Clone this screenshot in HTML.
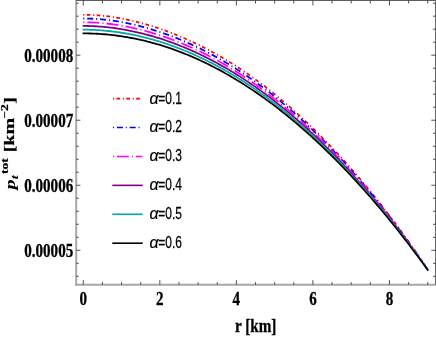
<!DOCTYPE html>
<html><head><meta charset="utf-8"><title>plot</title>
<style>html,body{margin:0;padding:0;background:#fff;}body{width:436px;height:338px;position:relative;overflow:hidden;font-family:"Liberation Sans",sans-serif;}</style>
</head><body>
<svg width="436" height="338" viewBox="0 0 436 338" style="position:absolute;left:0;top:0;will-change:transform">
<rect x="0" y="0" width="436" height="338" fill="#fff"/>
<g transform="scale(0.78 1)" fill="none" stroke-width="1.8">
<path d="M106.79,14.80 L109.74,14.81 L112.68,14.86 L115.63,14.92 L118.57,15.02 L121.51,15.14 L124.46,15.29 L127.40,15.47 L130.35,15.67 L133.29,15.90 L136.23,16.16 L139.18,16.44 L142.12,16.75 L145.06,17.08 L148.01,17.44 L150.95,17.82 L153.90,18.23 L156.84,18.66 L159.78,19.11 L162.73,19.58 L165.67,20.08 L168.62,20.60 L171.56,21.14 L174.50,21.71 L177.45,22.29 L180.39,22.90 L183.33,23.53 L186.28,24.17 L189.22,24.84 L192.17,25.53 L195.11,26.24 L198.05,26.97 L201.00,27.72 L203.94,28.49 L206.89,29.27 L209.83,30.08 L212.77,30.91 L215.72,31.76 L218.66,32.63 L221.60,33.52 L224.55,34.42 L227.49,35.35 L230.44,36.30 L233.38,37.27 L236.32,38.26 L239.27,39.27 L242.21,40.30 L245.16,41.35 L248.10,42.42 L251.04,43.51 L253.99,44.62 L256.93,45.76 L259.87,46.91 L262.82,48.09 L265.76,49.29 L268.71,50.51 L271.65,51.75 L274.59,53.01 L277.54,54.30 L280.48,55.60 L283.43,56.93 L286.37,58.28 L289.31,59.65 L292.26,61.04 L295.20,62.46 L298.14,63.89 L301.09,65.35 L304.03,66.83 L306.98,68.34 L309.92,69.86 L312.86,71.41 L315.81,72.98 L318.75,74.57 L321.70,76.19 L324.64,77.83 L327.58,79.48 L330.53,81.17 L333.47,82.87 L336.41,84.60 L339.36,86.34 L342.30,88.12 L345.25,89.91 L348.19,91.73 L351.13,93.56 L354.08,95.42 L357.02,97.31 L359.97,99.21 L362.91,101.14 L365.85,103.09 L368.80,105.07 L371.74,107.06 L374.68,109.08 L377.63,111.12 L380.57,113.18 L383.52,115.27 L386.46,117.38 L389.40,119.51 L392.35,121.66 L395.29,123.84 L398.24,126.04 L401.18,128.26 L404.12,130.51 L407.07,132.78 L410.01,135.07 L412.95,137.38 L415.90,139.72 L418.84,142.07 L421.79,144.46 L424.73,146.86 L427.67,149.29 L430.62,151.74 L433.56,154.22 L436.51,156.71 L439.45,159.23 L442.39,161.78 L445.34,164.34 L448.28,166.93 L451.22,169.55 L454.17,172.18 L457.11,174.84 L460.06,177.53 L463.00,180.24 L465.94,182.97 L468.89,185.72 L471.83,188.50 L474.78,191.30 L477.72,194.13 L480.66,196.98 L483.61,199.85 L486.55,202.75 L489.49,205.67 L492.44,208.61 L495.38,211.58 L498.33,214.58 L501.27,217.60 L504.21,220.64 L507.16,223.71 L510.10,226.80 L513.05,229.92 L515.99,233.06 L518.93,236.23 L521.88,239.42 L524.82,242.64 L527.76,245.88 L530.71,249.15 L533.65,252.45 L536.60,255.77 L539.54,259.11 L542.48,262.48 L545.43,265.88 L548.37,269.30" stroke="#ff0000" stroke-dasharray="1.41 3.08 4.62 3.55"/>
<path d="M106.79,18.52 L109.74,18.53 L112.68,18.57 L115.63,18.64 L118.57,18.73 L121.51,18.85 L124.46,18.99 L127.40,19.16 L130.35,19.35 L133.29,19.57 L136.23,19.82 L139.18,20.09 L142.12,20.38 L145.06,20.70 L148.01,21.04 L150.95,21.41 L153.90,21.79 L156.84,22.21 L159.78,22.64 L162.73,23.10 L165.67,23.58 L168.62,24.08 L171.56,24.60 L174.50,25.15 L177.45,25.71 L180.39,26.30 L183.33,26.91 L186.28,27.54 L189.22,28.19 L192.17,28.86 L195.11,29.55 L198.05,30.26 L201.00,30.99 L203.94,31.74 L206.89,32.51 L209.83,33.30 L212.77,34.11 L215.72,34.94 L218.66,35.79 L221.60,36.66 L224.55,37.55 L227.49,38.46 L230.44,39.39 L233.38,40.35 L236.32,41.32 L239.27,42.31 L242.21,43.33 L245.16,44.36 L248.10,45.42 L251.04,46.49 L253.99,47.59 L256.93,48.71 L259.87,49.85 L262.82,51.01 L265.76,52.19 L268.71,53.39 L271.65,54.61 L274.59,55.86 L277.54,57.13 L280.48,58.42 L283.43,59.73 L286.37,61.06 L289.31,62.41 L292.26,63.79 L295.20,65.19 L298.14,66.60 L301.09,68.05 L304.03,69.51 L306.98,70.99 L309.92,72.50 L312.86,74.03 L315.81,75.58 L318.75,77.15 L321.70,78.75 L324.64,80.37 L327.58,82.00 L330.53,83.67 L333.47,85.35 L336.41,87.05 L339.36,88.78 L342.30,90.53 L345.25,92.30 L348.19,94.10 L351.13,95.91 L354.08,97.75 L357.02,99.61 L359.97,101.50 L362.91,103.40 L365.85,105.33 L368.80,107.28 L371.74,109.25 L374.68,111.24 L377.63,113.26 L380.57,115.30 L383.52,117.36 L386.46,119.44 L389.40,121.55 L392.35,123.68 L395.29,125.83 L398.24,128.00 L401.18,130.20 L404.12,132.42 L407.07,134.66 L410.01,136.92 L412.95,139.21 L415.90,141.52 L418.84,143.85 L421.79,146.20 L424.73,148.58 L427.67,150.98 L430.62,153.40 L433.56,155.84 L436.51,158.31 L439.45,160.80 L442.39,163.31 L445.34,165.85 L448.28,168.41 L451.22,170.99 L454.17,173.60 L457.11,176.22 L460.06,178.88 L463.00,181.55 L465.94,184.25 L468.89,186.97 L471.83,189.71 L474.78,192.48 L477.72,195.27 L480.66,198.08 L483.61,200.92 L486.55,203.78 L489.49,206.67 L492.44,209.58 L495.38,212.51 L498.33,215.47 L501.27,218.45 L504.21,221.45 L507.16,224.48 L510.10,227.53 L513.05,230.61 L515.99,233.71 L518.93,236.84 L521.88,239.99 L524.82,243.16 L527.76,246.36 L530.71,249.58 L533.65,252.83 L536.60,256.11 L539.54,259.41 L542.48,262.73 L545.43,266.08 L548.37,269.45" stroke="#0000ff" stroke-dasharray="1.41 3.59 7.69 3.76"/>
<path d="M106.79,22.24 L109.74,22.25 L112.68,22.29 L115.63,22.35 L118.57,22.44 L121.51,22.55 L124.46,22.69 L127.40,22.85 L130.35,23.03 L133.29,23.24 L136.23,23.47 L139.18,23.73 L142.12,24.01 L145.06,24.31 L148.01,24.64 L150.95,24.99 L153.90,25.36 L156.84,25.76 L159.78,26.17 L162.73,26.61 L165.67,27.07 L168.62,27.56 L171.56,28.06 L174.50,28.59 L177.45,29.13 L180.39,29.70 L183.33,30.29 L186.28,30.90 L189.22,31.53 L192.17,32.18 L195.11,32.85 L198.05,33.54 L201.00,34.25 L203.94,34.99 L206.89,35.74 L209.83,36.51 L212.77,37.30 L215.72,38.12 L218.66,38.95 L221.60,39.80 L224.55,40.68 L227.49,41.57 L230.44,42.49 L233.38,43.42 L236.32,44.38 L239.27,45.36 L242.21,46.35 L245.16,47.37 L248.10,48.41 L251.04,49.47 L253.99,50.55 L256.93,51.65 L259.87,52.78 L262.82,53.92 L265.76,55.09 L268.71,56.27 L271.65,57.48 L274.59,58.71 L277.54,59.96 L280.48,61.23 L283.43,62.52 L286.37,63.84 L289.31,65.18 L292.26,66.53 L295.20,67.91 L298.14,69.32 L301.09,70.74 L304.03,72.18 L306.98,73.65 L309.92,75.14 L312.86,76.65 L315.81,78.18 L318.75,79.73 L321.70,81.31 L324.64,82.90 L327.58,84.52 L330.53,86.16 L333.47,87.83 L336.41,89.51 L339.36,91.22 L342.30,92.95 L345.25,94.70 L348.19,96.47 L351.13,98.26 L354.08,100.08 L357.02,101.92 L359.97,103.78 L362.91,105.66 L365.85,107.56 L368.80,109.49 L371.74,111.44 L374.68,113.41 L377.63,115.40 L380.57,117.42 L383.52,119.45 L386.46,121.51 L389.40,123.59 L392.35,125.69 L395.29,127.82 L398.24,129.97 L401.18,132.14 L404.12,134.33 L407.07,136.54 L410.01,138.78 L412.95,141.04 L415.90,143.32 L418.84,145.62 L421.79,147.95 L424.73,150.29 L427.67,152.66 L430.62,155.06 L433.56,157.47 L436.51,159.91 L439.45,162.37 L442.39,164.85 L445.34,167.36 L448.28,169.88 L451.22,172.44 L454.17,175.01 L457.11,177.60 L460.06,180.22 L463.00,182.86 L465.94,185.53 L468.89,188.22 L471.83,190.93 L474.78,193.66 L477.72,196.41 L480.66,199.19 L483.61,202.00 L486.55,204.82 L489.49,207.67 L492.44,210.54 L495.38,213.44 L498.33,216.35 L501.27,219.30 L504.21,222.26 L507.16,225.25 L510.10,228.26 L513.05,231.30 L515.99,234.36 L518.93,237.44 L521.88,240.55 L524.82,243.68 L527.76,246.84 L530.71,250.02 L533.65,253.22 L536.60,256.45 L539.54,259.70 L542.48,262.98 L545.43,266.28 L548.37,269.60" stroke="#ff00ff" stroke-dasharray="1.41 3.85 15.13 4.17"/>
<path d="M106.79,25.96 L109.74,25.97 L112.68,26.01 L115.63,26.07 L118.57,26.15 L121.51,26.25 L124.46,26.38 L127.40,26.53 L130.35,26.71 L133.29,26.91 L136.23,27.13 L139.18,27.37 L142.12,27.64 L145.06,27.93 L148.01,28.24 L150.95,28.57 L153.90,28.93 L156.84,29.31 L159.78,29.71 L162.73,30.13 L165.67,30.57 L168.62,31.03 L171.56,31.52 L174.50,32.03 L177.45,32.55 L180.39,33.10 L183.33,33.67 L186.28,34.26 L189.22,34.87 L192.17,35.50 L195.11,36.16 L198.05,36.83 L201.00,37.52 L203.94,38.24 L206.89,38.97 L209.83,39.72 L212.77,40.50 L215.72,41.30 L218.66,42.11 L221.60,42.95 L224.55,43.81 L227.49,44.68 L230.44,45.58 L233.38,46.50 L236.32,47.44 L239.27,48.40 L242.21,49.38 L245.16,50.38 L248.10,51.41 L251.04,52.45 L253.99,53.51 L256.93,54.60 L259.87,55.71 L262.82,56.84 L265.76,57.98 L268.71,59.15 L271.65,60.35 L274.59,61.56 L277.54,62.79 L280.48,64.05 L283.43,65.32 L286.37,66.62 L289.31,67.94 L292.26,69.28 L295.20,70.64 L298.14,72.03 L301.09,73.43 L304.03,74.86 L306.98,76.30 L309.92,77.77 L312.86,79.27 L315.81,80.78 L318.75,82.31 L321.70,83.87 L324.64,85.44 L327.58,87.04 L330.53,88.66 L333.47,90.31 L336.41,91.97 L339.36,93.65 L342.30,95.36 L345.25,97.09 L348.19,98.84 L351.13,100.61 L354.08,102.41 L357.02,104.22 L359.97,106.06 L362.91,107.92 L365.85,109.80 L368.80,111.70 L371.74,113.63 L374.68,115.57 L377.63,117.54 L380.57,119.53 L383.52,121.54 L386.46,123.58 L389.40,125.63 L392.35,127.71 L395.29,129.81 L398.24,131.93 L401.18,134.07 L404.12,136.24 L407.07,138.42 L410.01,140.63 L412.95,142.86 L415.90,145.12 L418.84,147.39 L421.79,149.69 L424.73,152.01 L427.67,154.35 L430.62,156.71 L433.56,159.10 L436.51,161.51 L439.45,163.94 L442.39,166.39 L445.34,168.86 L448.28,171.36 L451.22,173.88 L454.17,176.42 L457.11,178.98 L460.06,181.57 L463.00,184.18 L465.94,186.81 L468.89,189.46 L471.83,192.14 L474.78,194.84 L477.72,197.56 L480.66,200.30 L483.61,203.07 L486.55,205.86 L489.49,208.67 L492.44,211.50 L495.38,214.36 L498.33,217.24 L501.27,220.15 L504.21,223.07 L507.16,226.02 L510.10,228.99 L513.05,231.99 L515.99,235.01 L518.93,238.05 L521.88,241.11 L524.82,244.20 L527.76,247.31 L530.71,250.45 L533.65,253.61 L536.60,256.79 L539.54,259.99 L542.48,263.22 L545.43,266.47 L548.37,269.75" stroke="#800080" stroke-linecap="square"/>
<path d="M106.79,29.68 L109.74,29.69 L112.68,29.72 L115.63,29.78 L118.57,29.86 L121.51,29.96 L124.46,30.08 L127.40,30.22 L130.35,30.39 L133.29,30.58 L136.23,30.78 L139.18,31.02 L142.12,31.27 L145.06,31.54 L148.01,31.84 L150.95,32.16 L153.90,32.50 L156.84,32.86 L159.78,33.24 L162.73,33.64 L165.67,34.07 L168.62,34.51 L171.56,34.98 L174.50,35.47 L177.45,35.97 L180.39,36.50 L183.33,37.05 L186.28,37.62 L189.22,38.22 L192.17,38.83 L195.11,39.46 L198.05,40.12 L201.00,40.79 L203.94,41.49 L206.89,42.20 L209.83,42.94 L212.77,43.70 L215.72,44.47 L218.66,45.27 L221.60,46.09 L224.55,46.93 L227.49,47.79 L230.44,48.67 L233.38,49.58 L236.32,50.50 L239.27,51.44 L242.21,52.41 L245.16,53.40 L248.10,54.40 L251.04,55.43 L253.99,56.48 L256.93,57.55 L259.87,58.64 L262.82,59.75 L265.76,60.88 L268.71,62.04 L271.65,63.21 L274.59,64.41 L277.54,65.62 L280.48,66.86 L283.43,68.12 L286.37,69.40 L289.31,70.70 L292.26,72.03 L295.20,73.37 L298.14,74.74 L301.09,76.12 L304.03,77.53 L306.98,78.96 L309.92,80.41 L312.86,81.88 L315.81,83.38 L318.75,84.89 L321.70,86.43 L324.64,87.98 L327.58,89.56 L330.53,91.16 L333.47,92.78 L336.41,94.43 L339.36,96.09 L342.30,97.78 L345.25,99.48 L348.19,101.21 L351.13,102.96 L354.08,104.73 L357.02,106.53 L359.97,108.34 L362.91,110.18 L365.85,112.04 L368.80,113.91 L371.74,115.82 L374.68,117.74 L377.63,119.68 L380.57,121.65 L383.52,123.63 L386.46,125.64 L389.40,127.67 L392.35,129.72 L395.29,131.80 L398.24,133.89 L401.18,136.01 L404.12,138.15 L407.07,140.31 L410.01,142.49 L412.95,144.69 L415.90,146.92 L418.84,149.16 L421.79,151.43 L424.73,153.72 L427.67,156.04 L430.62,158.37 L433.56,160.73 L436.51,163.11 L439.45,165.50 L442.39,167.93 L445.34,170.37 L448.28,172.84 L451.22,175.32 L454.17,177.83 L457.11,180.36 L460.06,182.92 L463.00,185.49 L465.94,188.09 L468.89,190.71 L471.83,193.35 L474.78,196.02 L477.72,198.70 L480.66,201.41 L483.61,204.14 L486.55,206.90 L489.49,209.67 L492.44,212.47 L495.38,215.29 L498.33,218.13 L501.27,220.99 L504.21,223.88 L507.16,226.79 L510.10,229.72 L513.05,232.68 L515.99,235.65 L518.93,238.65 L521.88,241.68 L524.82,244.72 L527.76,247.79 L530.71,250.88 L533.65,253.99 L536.60,257.13 L539.54,260.29 L542.48,263.47 L545.43,266.67 L548.37,269.90" stroke="#00aaaa" stroke-linecap="square"/>
<path d="M106.79,33.40 L109.74,33.41 L112.68,33.44 L115.63,33.49 L118.57,33.57 L121.51,33.66 L124.46,33.77 L127.40,33.91 L130.35,34.07 L133.29,34.24 L136.23,34.44 L139.18,34.66 L142.12,34.90 L145.06,35.16 L148.01,35.44 L150.95,35.74 L153.90,36.06 L156.84,36.41 L159.78,36.77 L162.73,37.16 L165.67,37.56 L168.62,37.99 L171.56,38.44 L174.50,38.91 L177.45,39.39 L180.39,39.90 L183.33,40.44 L186.28,40.99 L189.22,41.56 L192.17,42.15 L195.11,42.77 L198.05,43.40 L201.00,44.06 L203.94,44.74 L206.89,45.43 L209.83,46.15 L212.77,46.89 L215.72,47.65 L218.66,48.43 L221.60,49.24 L224.55,50.06 L227.49,50.90 L230.44,51.77 L233.38,52.65 L236.32,53.56 L239.27,54.49 L242.21,55.44 L245.16,56.41 L248.10,57.40 L251.04,58.41 L253.99,59.44 L256.93,60.49 L259.87,61.57 L262.82,62.66 L265.76,63.78 L268.71,64.92 L271.65,66.08 L274.59,67.26 L277.54,68.46 L280.48,69.68 L283.43,70.92 L286.37,72.18 L289.31,73.47 L292.26,74.77 L295.20,76.10 L298.14,77.45 L301.09,78.82 L304.03,80.21 L306.98,81.62 L309.92,83.05 L312.86,84.50 L315.81,85.98 L318.75,87.47 L321.70,88.99 L324.64,90.52 L327.58,92.08 L330.53,93.66 L333.47,95.26 L336.41,96.89 L339.36,98.53 L342.30,100.19 L345.25,101.88 L348.19,103.59 L351.13,105.31 L354.08,107.06 L357.02,108.83 L359.97,110.62 L362.91,112.44 L365.85,114.27 L368.80,116.13 L371.74,118.00 L374.68,119.90 L377.63,121.82 L380.57,123.76 L383.52,125.72 L386.46,127.71 L389.40,129.71 L392.35,131.74 L395.29,133.79 L398.24,135.86 L401.18,137.95 L404.12,140.06 L407.07,142.19 L410.01,144.34 L412.95,146.52 L415.90,148.72 L418.84,150.94 L421.79,153.18 L424.73,155.44 L427.67,157.72 L430.62,160.03 L433.56,162.35 L436.51,164.70 L439.45,167.07 L442.39,169.46 L445.34,171.88 L448.28,174.31 L451.22,176.77 L454.17,179.25 L457.11,181.74 L460.06,184.27 L463.00,186.81 L465.94,189.37 L468.89,191.96 L471.83,194.57 L474.78,197.20 L477.72,199.85 L480.66,202.52 L483.61,205.22 L486.55,207.93 L489.49,210.67 L492.44,213.43 L495.38,216.21 L498.33,219.02 L501.27,221.84 L504.21,224.69 L507.16,227.56 L510.10,230.45 L513.05,233.37 L515.99,236.30 L518.93,239.26 L521.88,242.24 L524.82,245.24 L527.76,248.26 L530.71,251.31 L533.65,254.38 L536.60,257.47 L539.54,260.58 L542.48,263.71 L545.43,266.87 L548.37,270.05" stroke="#000000" stroke-linecap="square"/>
</g>
<line x1="76.2" y1="0" x2="76.2" y2="285.75" stroke="#a8a8a8" stroke-width="2"/>
<line x1="75.2" y1="284.75" x2="436" y2="284.75" stroke="#a8a8a8" stroke-width="2"/>
<line x1="76.2" y1="0.4" x2="436" y2="0.4" stroke="#4a4a4a" stroke-width="1"/>
<line x1="435.5" y1="0" x2="435.5" y2="284.75" stroke="#666" stroke-width="1"/>
<path d="M83.30,284.75 V280.15 M83.30,0.6 V5.5 M102.44,284.75 V282.15 M102.44,0.6 V3.5 M121.57,284.75 V282.15 M121.57,0.6 V3.5 M140.70,284.75 V282.15 M140.70,0.6 V3.5 M159.84,284.75 V280.15 M159.84,0.6 V5.5 M178.98,284.75 V282.15 M178.98,0.6 V3.5 M198.11,284.75 V282.15 M198.11,0.6 V3.5 M217.25,284.75 V282.15 M217.25,0.6 V3.5 M236.38,284.75 V280.15 M236.38,0.6 V5.5 M255.51,284.75 V282.15 M255.51,0.6 V3.5 M274.65,284.75 V282.15 M274.65,0.6 V3.5 M293.79,284.75 V282.15 M293.79,0.6 V3.5 M312.92,284.75 V280.15 M312.92,0.6 V5.5 M332.06,284.75 V282.15 M332.06,0.6 V3.5 M351.19,284.75 V282.15 M351.19,0.6 V3.5 M370.33,284.75 V282.15 M370.33,0.6 V3.5 M389.46,284.75 V280.15 M389.46,0.6 V5.5 M408.60,284.75 V282.15 M408.60,0.6 V3.5 M427.73,284.75 V282.15 M427.73,0.6 V3.5 M76.2,276.30 H78.7 M435.5,276.30 H433.0 M76.2,263.30 H78.7 M435.5,263.30 H433.0 M76.2,250.29 H80.4 M435.5,250.29 H431.3 M76.2,237.28 H78.7 M435.5,237.28 H433.0 M76.2,224.28 H78.7 M435.5,224.28 H433.0 M76.2,211.27 H78.7 M435.5,211.27 H433.0 M76.2,198.27 H78.7 M435.5,198.27 H433.0 M76.2,185.26 H80.4 M435.5,185.26 H431.3 M76.2,172.25 H78.7 M435.5,172.25 H433.0 M76.2,159.25 H78.7 M435.5,159.25 H433.0 M76.2,146.24 H78.7 M435.5,146.24 H433.0 M76.2,133.24 H78.7 M435.5,133.24 H433.0 M76.2,120.23 H80.4 M435.5,120.23 H431.3 M76.2,107.22 H78.7 M435.5,107.22 H433.0 M76.2,94.22 H78.7 M435.5,94.22 H433.0 M76.2,81.21 H78.7 M435.5,81.21 H433.0 M76.2,68.21 H78.7 M435.5,68.21 H433.0 M76.2,55.20 H80.4 M435.5,55.20 H431.3 M76.2,42.19 H78.7 M435.5,42.19 H433.0 M76.2,29.19 H78.7 M435.5,29.19 H433.0 M76.2,16.18 H78.7 M435.5,16.18 H433.0 M76.2,3.18 H78.7 M435.5,3.18 H433.0" fill="none" stroke="#3c3c3c" stroke-width="0.9"/>
<text transform="translate(73.2,61.50) scale(0.815,1)" text-anchor="end" font-family="Liberation Serif, serif" font-weight="bold" font-size="18.5" fill="#000" stroke="#000" stroke-width="0.3">0.00008</text>
<text transform="translate(73.2,126.53) scale(0.815,1)" text-anchor="end" font-family="Liberation Serif, serif" font-weight="bold" font-size="18.5" fill="#000" stroke="#000" stroke-width="0.3">0.00007</text>
<text transform="translate(73.2,191.56) scale(0.815,1)" text-anchor="end" font-family="Liberation Serif, serif" font-weight="bold" font-size="18.5" fill="#000" stroke="#000" stroke-width="0.3">0.00006</text>
<text transform="translate(73.2,256.59) scale(0.815,1)" text-anchor="end" font-family="Liberation Serif, serif" font-weight="bold" font-size="18.5" fill="#000" stroke="#000" stroke-width="0.3">0.00005</text>
<text transform="translate(83.30,305) scale(0.815,1)" text-anchor="middle" font-family="Liberation Serif, serif" font-weight="bold" font-size="18.5" fill="#000" stroke="#000" stroke-width="0.3">0</text>
<text transform="translate(159.84,305) scale(0.815,1)" text-anchor="middle" font-family="Liberation Serif, serif" font-weight="bold" font-size="18.5" fill="#000" stroke="#000" stroke-width="0.3">2</text>
<text transform="translate(236.38,305) scale(0.815,1)" text-anchor="middle" font-family="Liberation Serif, serif" font-weight="bold" font-size="18.5" fill="#000" stroke="#000" stroke-width="0.3">4</text>
<text transform="translate(312.92,305) scale(0.815,1)" text-anchor="middle" font-family="Liberation Serif, serif" font-weight="bold" font-size="18.5" fill="#000" stroke="#000" stroke-width="0.3">6</text>
<text transform="translate(389.46,305) scale(0.815,1)" text-anchor="middle" font-family="Liberation Serif, serif" font-weight="bold" font-size="18.5" fill="#000" stroke="#000" stroke-width="0.3">8</text>
<text transform="translate(255.7,332.3) scale(0.83,1)" text-anchor="middle" font-family="Liberation Serif, serif" font-weight="bold" font-size="18.3" fill="#000" stroke="#000" stroke-width="0.3">r [km]</text>
<text transform="translate(14.6,189.4) scale(0.74,1) rotate(-90)" font-family="Liberation Serif, serif" font-weight="bold" font-size="20" font-style="italic" fill="#000" stroke="#000" stroke-width="0.1">p</text>
<text transform="translate(17.5,179.2) scale(0.74,1) rotate(-90)" font-family="Liberation Serif, serif" font-weight="bold" font-size="14" font-style="italic" fill="#000" stroke="#000" stroke-width="0.1">t</text>
<text transform="translate(7.6,174.0) scale(0.74,1) rotate(-90)" font-family="Liberation Serif, serif" font-weight="bold" font-size="13.5" fill="#000" stroke="#000" stroke-width="0.3">tot</text>
<text transform="translate(14.4,152.3) scale(0.74,1) rotate(-90)" font-family="Liberation Serif, serif" font-weight="bold" font-size="20" fill="#000" stroke="#000" stroke-width="0.3">[km</text>
<text transform="translate(8.0,118.6) scale(0.74,1) rotate(-90)" font-family="Liberation Serif, serif" font-weight="bold" font-size="13.5" fill="#000" stroke="#000" stroke-width="0.3">−2</text>
<text transform="translate(14.4,103.8) scale(0.74,1) rotate(-90)" font-family="Liberation Serif, serif" font-weight="bold" font-size="20" fill="#000" stroke="#000" stroke-width="0.3">]</text>
<line x1="112.3" y1="98.60" x2="140.0" y2="98.60" stroke="#ff0000" stroke-width="1.6" stroke-dasharray="1 2.4 3.7 2.8" stroke-dashoffset="-0.7"/>
<text transform="translate(149.5,103.50) scale(0.98,1)" font-family="Liberation Sans, sans-serif" font-style="italic" font-size="16.3" fill="#000" stroke="#000" stroke-width="0.2">α</text>
<text transform="translate(158.3,103.50) scale(0.735,1)" font-family="Liberation Sans, sans-serif" font-size="16.3" fill="#000" stroke="#000" stroke-width="0.25">=0.1</text>
<line x1="112.3" y1="127.52" x2="139.8" y2="127.52" stroke="#0000ff" stroke-width="1.6" stroke-dasharray="1 2.9 6 2.9" stroke-dashoffset="-0.7"/>
<text transform="translate(149.5,132.42) scale(0.98,1)" font-family="Liberation Sans, sans-serif" font-style="italic" font-size="16.3" fill="#000" stroke="#000" stroke-width="0.2">α</text>
<text transform="translate(158.3,132.42) scale(0.735,1)" font-family="Liberation Sans, sans-serif" font-size="16.3" fill="#000" stroke="#000" stroke-width="0.25">=0.2</text>
<line x1="112.3" y1="156.44" x2="142.3" y2="156.44" stroke="#ff00ff" stroke-width="1.6" stroke-dasharray="1 3 11.7 3.3" stroke-dashoffset="-0.7"/>
<text transform="translate(149.5,161.34) scale(0.98,1)" font-family="Liberation Sans, sans-serif" font-style="italic" font-size="16.3" fill="#000" stroke="#000" stroke-width="0.2">α</text>
<text transform="translate(158.3,161.34) scale(0.735,1)" font-family="Liberation Sans, sans-serif" font-size="16.3" fill="#000" stroke="#000" stroke-width="0.25">=0.3</text>
<line x1="112.3" y1="185.36" x2="142.7" y2="185.36" stroke="#800080" stroke-width="1.6"/>
<text transform="translate(149.5,190.26) scale(0.98,1)" font-family="Liberation Sans, sans-serif" font-style="italic" font-size="16.3" fill="#000" stroke="#000" stroke-width="0.2">α</text>
<text transform="translate(158.3,190.26) scale(0.735,1)" font-family="Liberation Sans, sans-serif" font-size="16.3" fill="#000" stroke="#000" stroke-width="0.25">=0.4</text>
<line x1="112.3" y1="214.28" x2="142.7" y2="214.28" stroke="#00aaaa" stroke-width="1.6"/>
<text transform="translate(149.5,219.18) scale(0.98,1)" font-family="Liberation Sans, sans-serif" font-style="italic" font-size="16.3" fill="#000" stroke="#000" stroke-width="0.2">α</text>
<text transform="translate(158.3,219.18) scale(0.735,1)" font-family="Liberation Sans, sans-serif" font-size="16.3" fill="#000" stroke="#000" stroke-width="0.25">=0.5</text>
<line x1="112.3" y1="243.20" x2="142.7" y2="243.20" stroke="#000000" stroke-width="1.6"/>
<text transform="translate(149.5,248.10) scale(0.98,1)" font-family="Liberation Sans, sans-serif" font-style="italic" font-size="16.3" fill="#000" stroke="#000" stroke-width="0.2">α</text>
<text transform="translate(158.3,248.10) scale(0.735,1)" font-family="Liberation Sans, sans-serif" font-size="16.3" fill="#000" stroke="#000" stroke-width="0.25">=0.6</text>
</svg>
</body></html>
